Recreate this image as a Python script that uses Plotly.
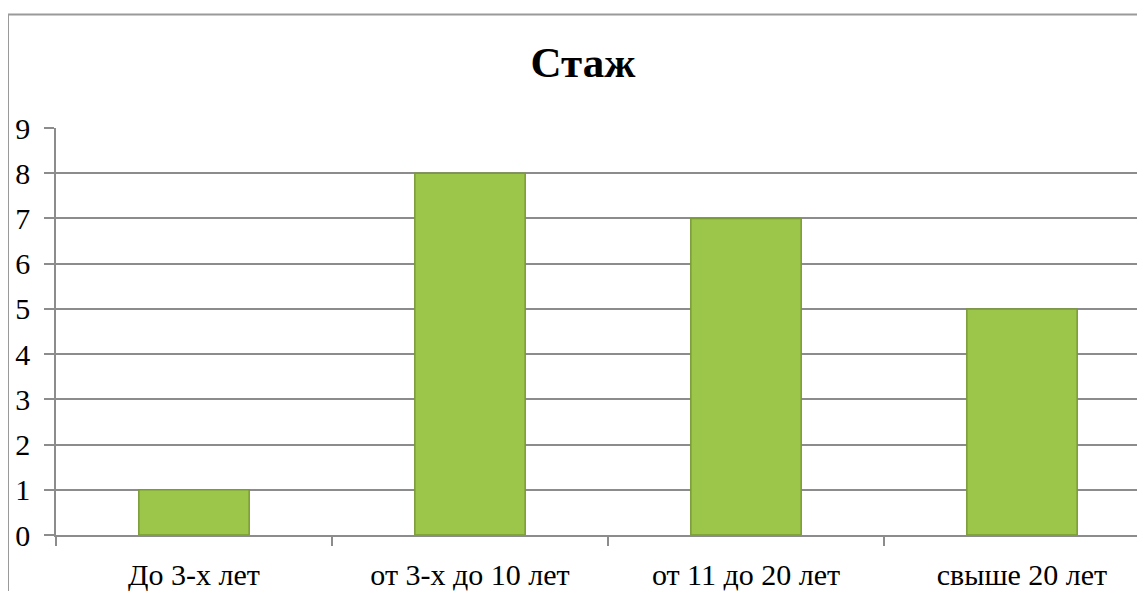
import plotly.graph_objects as go

categories = ["До 3-х лет", "от 3-х до 10 лет", "от 11 до 20 лет", "свыше 20 лет"]
values = [1, 8, 7, 5]
y_ticks = [0, 1, 2, 3, 4, 5, 6, 7, 8, 9]
title_text = "Стаж"

# page body has an 8px margin; figure coordinates are window coordinates minus 8
OFF = 8
W, H = 1145 - OFF, 591 - OFF
L = 56 - OFF
T = 128 - OFF
B = H - (537 - OFF)
plot_w = W - L
plot_h = H - T - B
cat_w = 276.0
x_hi = -0.5 + plot_w / cat_w

fig = go.Figure()
fig.add_trace(go.Bar(
    x=categories, y=values, width=0.4,
    marker=dict(color="#9BC64A", line=dict(color="#7A9A36", width=1.5)),
    hoverinfo="x+y",
))

grey = "#8c8c8c"
fig.update_layout(
    width=W, height=H,
    margin=dict(l=L, r=0, t=T, b=B, pad=0),
    paper_bgcolor="white", plot_bgcolor="white",
    showlegend=False,
    font=dict(family="Liberation Serif, Times New Roman, serif", color="black"),
    title=dict(text="<b>" + title_text + "</b>", x=(583 - OFF) / W, xanchor="center",
               y=1 - (62 - OFF) / H, yanchor="middle", font=dict(size=43, color="black")),
    xaxis=dict(
        type="category", range=[-0.5, x_hi],
        showline=True, linecolor=grey, linewidth=1.5,
        ticks="outside", tickson="boundaries", ticklen=9, tickcolor=grey, tickwidth=1.5,
        showgrid=False, tickfont=dict(size=30), ticklabelstandoff=12,
    ),
    yaxis=dict(
        range=[0, 9], tickvals=y_ticks, ticktext=[str(v) for v in y_ticks],
        showline=True, linecolor=grey, linewidth=1.5,
        ticks="outside", ticklen=10, tickcolor=grey, tickwidth=1.5,
        showgrid=True, gridcolor=grey, gridwidth=1.5, zeroline=False,
        tickfont=dict(size=30), ticklabelstandoff=8,
    ),
    shapes=[dict(
        type="rect", xref="paper", yref="paper",
        x0=(8 - 56) / plot_w, x1=1.05,
        y0=-0.3, y1=(537 - 14) / plot_h,
        line=dict(color="#9a9a9a", width=2), fillcolor="rgba(0,0,0,0)", layer="below",
    )],
)

fig.write_html("out.html")
